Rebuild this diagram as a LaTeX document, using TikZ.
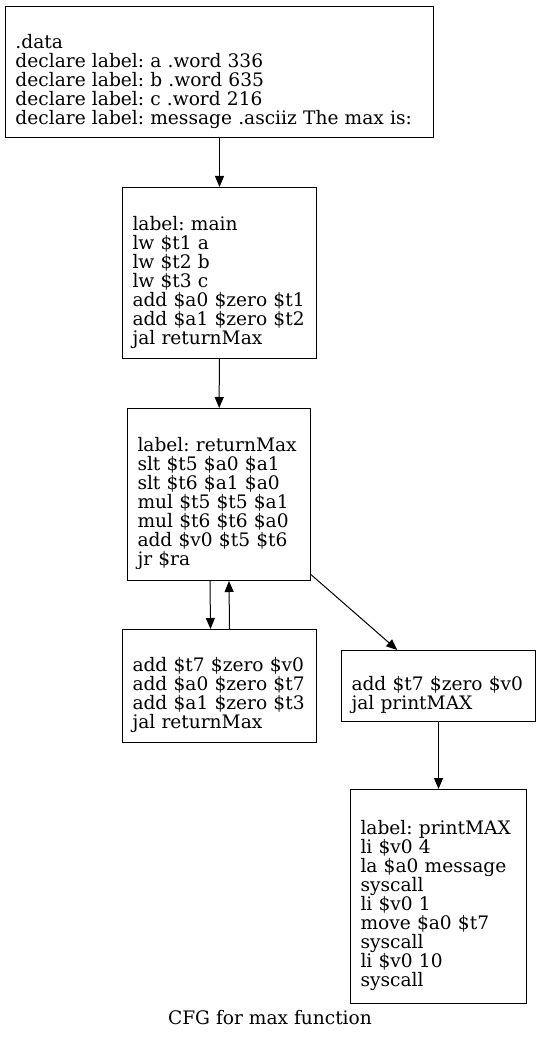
\documentclass[tikz,border=0pt]{standalone}
\usepackage{fontspec}
\setmainfont{DejaVu Serif}
\usetikzlibrary{arrows.meta,positioning}

\begin{document}
\frenchspacing
\begin{tikzpicture}[x=1pt, y=-1pt, every node/.style={font=\fontsize{18.6}{19}\selectfont},
  bblock/.style={draw, line width=1pt, anchor=north west, align=left, inner xsep=10pt, inner ysep=0pt,
    execute at begin node=\strut, execute at end node=\strut},
  flow/.style={line width=1pt, -{Triangle[length=11pt, width=9pt]}}]
  \useasboundingbox (0,0) rectangle (541,1040);
  % CFG for max function, one node per basic block
  \node[bblock, text width=408pt, minimum height=131pt] (data) at (5,6)
    {\\.data\\declare label: a .word 336\\declare label: b .word 635\\declare label: c .word 216\\declare label: message .asciiz The max is:};

  \node[bblock, text width=174pt, minimum height=171pt] (main) at (122,187)
    {\\label: main\\lw \$t1 a\\lw \$t2 b\\lw \$t3 c\\add \$a0 \$zero \$t1\\add \$a1 \$zero \$t2\\jal returnMax};

  \node[bblock, text width=163pt, minimum height=172pt] (retmax) at (127,408)
    {\\label: returnMax\\slt \$t5 \$a0 \$a1\\slt \$t6 \$a1 \$a0\\mul \$t5 \$t5 \$a1\\mul \$t6 \$t6 \$a0\\add \$v0 \$t5 \$t6\\jr \$ra};

  \node[bblock, text width=174pt, minimum height=113pt] (callret) at (122,629)
    {\\add \$t7 \$zero \$v0\\add \$a0 \$zero \$t7\\add \$a1 \$zero \$t3\\jal returnMax};

  \node[bblock, text width=174pt, minimum height=71pt] (callprint) at (341,650)
    {\\add \$t7 \$zero \$v0\\jal printMAX};

  \node[bblock, text width=156pt, minimum height=214pt] (printmax) at (350,789)
    {\\label: printMAX\\li \$v0 4\\la \$a0 message\\syscall\\li \$v0 1\\move \$a0 \$t7\\syscall\\li \$v0 10\\syscall};

  \node (caption) at (270,1018) {CFG for max function};

  \draw[flow] (data) -- (main);
  \draw[flow] (main) -- (retmax);
  \draw[flow] ([xshift=-9pt]retmax.south) -- ([xshift=-9pt]callret.north);
  \draw[flow] ([xshift=10pt]callret.north) -- ([xshift=10pt]retmax.south);
  \draw[flow] (retmax) -- (callprint);
  \draw[flow] (callprint) -- (printmax);
\end{tikzpicture}
\end{document}
